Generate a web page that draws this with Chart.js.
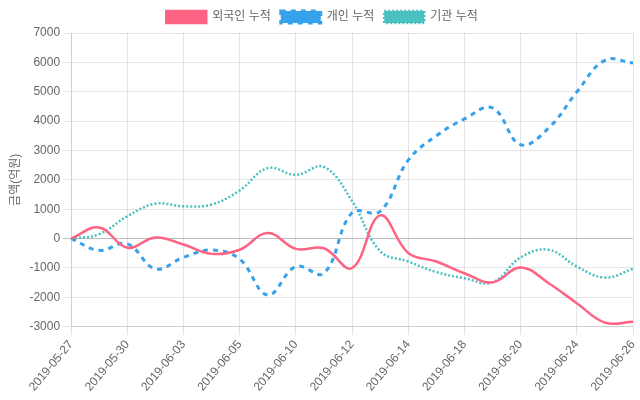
<!DOCTYPE html>
<html><head><meta charset="utf-8">
<script src="https://cdn.jsdelivr.net/npm/chart.js@4/dist/chart.umd.min.js"></script>
<style>html,body{margin:0;padding:0;background:#fff}#wrap{width:640px;height:400px}</style>
</head><body><div id="wrap"><canvas id="c"></canvas></div>
<script>
const labels = ['2019-05-27','2019-05-28','2019-05-30','2019-05-31','2019-06-03','2019-06-04','2019-06-05','2019-06-07','2019-06-10','2019-06-11','2019-06-12','2019-06-13','2019-06-14','2019-06-17','2019-06-18','2019-06-19','2019-06-20','2019-06-21','2019-06-24','2019-06-25','2019-06-26'];
const foreign = [0,380,-310,40,-200,-520,-380,190,-350,-330,-1000,790,-490,-780,-1180,-1490,-980,-1520,-2200,-2860,-2830];
const individual = [0,-400,-180,-1030,-640,-390,-700,-1920,-950,-1180,880,930,2670,3500,4075,4450,3195,3770,4990,6070,5980];
const institution = [0,150,760,1190,1100,1160,1640,2400,2170,2440,1280,-430,-780,-1140,-1350,-1490,-640,-380,-950,-1325,-1030];
const yTitle = '금액(억원)';
const names = ['외국인 누적','개인 누적','기관 누적'];

const font = "'Liberation Sans', 'Noto Sans CJK KR', sans-serif";
Chart.defaults.font.family = font;
Chart.defaults.font.size = 12;
Chart.defaults.color = '#666';

new Chart(document.getElementById('c'), {
  type: 'line',
  data: {
    labels: labels,
    datasets: [
      {label: names[0], data: foreign, borderColor: 'rgb(255,99,132)', backgroundColor: 'rgb(255,99,132)', borderWidth: 2.5, fill: false, tension: 0.4, pointRadius: 0},
      {label: names[1], data: individual, borderColor: 'rgb(54,162,235)', backgroundColor: 'rgb(54,162,235)', borderWidth: 3, borderDash: [5,5], fill: false, tension: 0.4, pointRadius: 0},
      {label: names[2], data: institution, borderColor: 'rgb(75,192,192)', backgroundColor: 'rgb(75,192,192)', borderWidth: 2.5, borderDash: [2,2], fill: false, tension: 0.4, pointRadius: 0}
    ]
  },
  options: {
    responsive: true,
    maintainAspectRatio: false,
    animation: false,
    layout: {padding: {left: 4, right: 0, bottom: 3, top: 1}},
    plugins: {
      legend: {labels: {boxWidth: 40, boxHeight: 12, font: {size: 12}, color: '#666', padding: 10}},
      tooltip: {enabled: false}
    },
    scales: {
      x: {
        grid: {color: 'rgba(0,0,0,0.1)', tickLength: 8},
        ticks: {autoSkip: true, maxTicksLimit: 11, minRotation: 50, maxRotation: 50, color: '#666'},
        afterFit: (scale) => { scale.paddingRight = 7; }
      },
      y: {
        min: -3000, max: 7000,
        grid: {color: (ctx) => ctx.tick && ctx.tick.value === 0 ? 'rgba(0,0,0,0.25)' : 'rgba(0,0,0,0.1)', tickLength: 8},
        ticks: {stepSize: 1000, color: '#666', callback: (v) => String(v)},
        title: {display: true, text: yTitle, color: '#666', font: {size: 12}}
      }
    }
  }
});
</script></body></html>
